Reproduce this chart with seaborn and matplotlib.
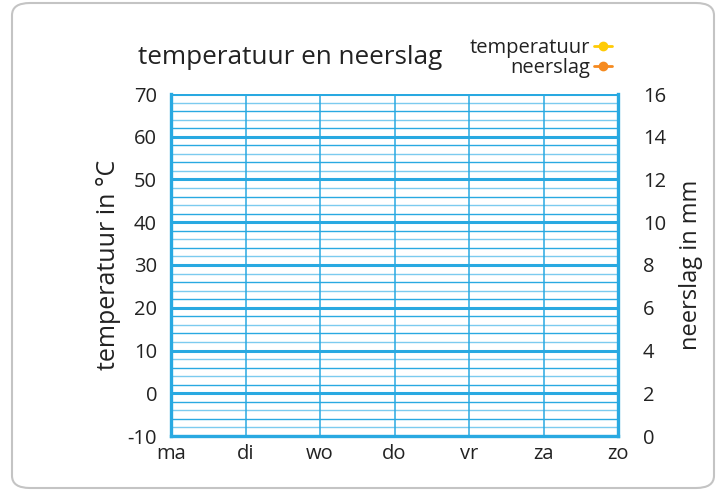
import matplotlib
matplotlib.use("Agg")
import matplotlib.pyplot as plt
import seaborn as sns
import numpy as np
import pandas as pd
from matplotlib.patches import FancyBboxPatch
from matplotlib.lines import Line2D

days = ["ma", "di", "wo", "do", "vr", "za", "zo"]
temperatuur = [np.nan] * 7
neerslag = [np.nan] * 7
temp_ticks = [-10, 0, 10, 20, 30, 40, 50, 60, 70]
rain_ticks = [0, 2, 4, 6, 8, 10, 12, 14, 16]

sns.set_theme(style="white")
plt.rcParams["font.family"] = ["Open Sans", "DejaVu Sans"]
plt.rcParams["axes.unicode_minus"] = False

BLUE = "#29a9e1"
LIGHT = "#7ccbef"
YELLOW = "#ffcb05"
ORANGE = "#f58a1f"
TXT = "#222222"

fig = plt.figure(figsize=(7.23, 4.91), dpi=100)
W, H = 723, 491
border = FancyBboxPatch((12 / W, 3 / H), 702 / W, 485 / H,
                        boxstyle="round,pad=0,rounding_size=0.025",
                        transform=fig.transFigure, fill=False,
                        edgecolor="#c4c4c4", linewidth=1.5)
fig.patches.append(border)

ax = fig.add_axes([171 / W, 1 - 436 / H, (618 - 171) / W, (436 - 94) / H])
df = pd.DataFrame({"dag": np.arange(len(days)), "temperatuur": temperatuur,
                   "neerslag": neerslag})
sns.lineplot(data=df, x="dag", y="temperatuur", ax=ax, color=YELLOW, marker="o")

ax.set_xlim(0, len(days) - 1)
ax.set_ylim(-10, 70)

# minor horizontal lines
for v in np.arange(-10, 71, 2):
    if v % 10 == 0:
        continue
    ax.axhline(v, color=BLUE if (v // 2) % 2 else LIGHT, lw=1.0, zorder=1)
for v in temp_ticks:
    ax.axhline(v, color=BLUE, lw=2.2, zorder=2)
for i in range(len(days)):
    ax.axvline(i, color=BLUE, lw=1.1, zorder=1)

for s in ["left", "bottom", "right", "top"]:
    ax.spines[s].set_color(BLUE)
    ax.spines[s].set_linewidth(2.4)
ax.spines["top"].set_visible(False)

ax.set_xticks(range(len(days)))
ax.set_xticklabels(days)
ax.set_yticks(temp_ticks)
ax.tick_params(axis="both", length=0, labelsize=14.5, colors=TXT)
ax.tick_params(axis="y", pad=10)
ax.tick_params(axis="x", pad=6)
ax.set_xlabel("")
ax.set_ylabel("temperatuur in °C", fontsize=18, color=TXT, labelpad=5)

ax2 = ax.twinx()
ax2.set_ylim(0, 16)
ax2.set_yticks(rain_ticks)
ax2.tick_params(axis="y", length=0, labelsize=14.5, colors=TXT, pad=18)
ax2.set_ylabel("neerslag in mm", fontsize=17, color=TXT, labelpad=9)
for s in ax2.spines.values():
    s.set_visible(False)
ax2.plot(df["dag"], df["neerslag"], color=ORANGE, marker="o")
ax2.grid(False)

fig.text(290 / W, 1 - 57 / H, "temperatuur en neerslag", ha="center",
         va="center", fontsize=18.8, color=TXT)

handles = [Line2D([0], [0], color=YELLOW, marker="o", markersize=6, lw=2),
           Line2D([0], [0], color=ORANGE, marker="o", markersize=6, lw=2)]
leg = fig.legend(handles, ["temperatuur", "neerslag"], loc="upper right",
                 bbox_to_anchor=(622 / W, 1 - 28 / H), frameon=False,
                 markerfirst=False, fontsize=14.5, handlelength=0.9,
                 handletextpad=0.2, labelspacing=0.0, borderpad=0)
for t in leg.get_texts():
    t.set_color(TXT)
    t.set_ha("right")
leg._legend_box.align = "right"

fig.savefig("out.png", dpi=100)
